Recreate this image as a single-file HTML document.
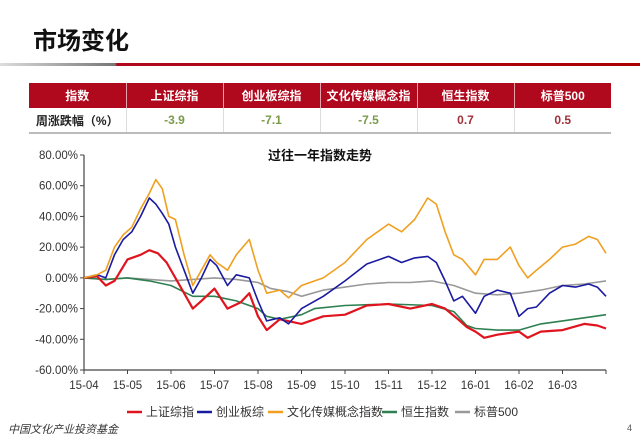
<!DOCTYPE html>
<html><head><meta charset="utf-8"><style>
body{margin:0;width:640px;height:444px;background:#fff;position:relative;overflow:hidden;font-family:"Liberation Sans","Noto Sans CJK SC",sans-serif}
.t{position:absolute}
table{position:absolute;left:29px;top:83px;width:582px;border-collapse:collapse;font-size:12px;table-layout:fixed}
th{background:#b0091e;color:#fff;height:25px;font-weight:bold;border-right:1px solid #e6a0aa;padding:0}
td{height:24px;text-align:center;font-weight:bold;border-right:1px solid #ddd;border-bottom:2px solid #bbb;padding:0}
th:last-child,td:last-child{border-right:none}
</style></head><body>
<div class="t" style="left:33px;top:21px;font-size:24px;font-weight:bold;color:#111">市场变化</div>
<div class="t" style="left:0;top:63px;width:640px;height:3px;background:linear-gradient(90deg,#ddd 0,#777 115px,#b0091e 117px,#a00 100%)"></div>
<table>
<tr><th>指数</th><th>上证综指</th><th>创业板综指</th><th>文化传媒概念指</th><th>恒生指数</th><th>标普500</th></tr>
<tr><td style="color:#222">周涨跌幅（%）</td><td style="color:#7a9a4a">-3.9</td><td style="color:#7a9a4a">-7.1</td><td style="color:#7a9a4a">-7.5</td><td style="color:#a0303a">0.7</td><td style="color:#a0303a">0.5</td></tr>
</table>
<svg id="c" class="t" style="left:0;top:0" width="640" height="444"></svg>
<div class="t" style="left:8px;top:421px;font-size:11px;color:#333;font-style:italic">中国文化产业投资基金</div>
<div class="t" style="left:627px;top:423px;font-size:9px;color:#555">4</div>
<script>
const months=["15-04","15-05","15-06","15-07","15-08","15-09","15-10","15-11","15-12","16-01","16-02","16-03"];
const yTicks=[80,60,40,20,0,-20,-40,-60];
const seriesNames=["上证综指","创业板综","文化传媒概念指数","恒生指数","标普500"];
const seriesColors=["#e0141e","#1a1aa0","#f0a020","#2e8050","#999999"];
const mediaX=[0,0.3,0.5,0.7,0.9,1.1,1.3,1.5,1.65,1.8,1.95,2.1,2.3,2.5,2.7,2.9,3.05,3.3,3.5,3.8,4.0,4.2,4.5,4.7,5.0,5.5,6.0,6.5,7.0,7.3,7.6,7.9,8.1,8.3,8.5,8.7,9.0,9.2,9.5,9.8,10.0,10.2,10.4,10.7,11.0,11.3,11.6,11.8,12.0];
const mediaY=[0,2,5,20,28,33,45,55,64,58,40,38,15,-5,5,15,10,5,15,25,5,-10,-8,-13,-5,0,10,25,35,30,38,52,48,30,15,12,2,12,12,20,8,0,5,12,20,22,27,25,16];
const cybX=[0,0.3,0.5,0.7,0.9,1.1,1.3,1.5,1.65,1.8,1.95,2.1,2.3,2.5,2.7,2.9,3.05,3.3,3.5,3.8,4.0,4.2,4.5,4.7,5.0,5.5,6.0,6.5,7.0,7.3,7.6,7.9,8.1,8.3,8.5,8.7,9.0,9.2,9.5,9.8,10.0,10.2,10.4,10.7,11.0,11.3,11.6,11.8,12.0];
const cybY=[0,2,0,15,25,30,40,52,48,42,35,20,5,-10,0,12,8,-5,2,0,-15,-28,-26,-30,-20,-12,-2,9,14,10,13,14,10,-2,-15,-12,-23,-12,-8,-10,-25,-20,-19,-10,-5,-6,-4,-6,-12];
const shX=[0,0.3,0.5,0.7,1.0,1.3,1.5,1.7,1.9,2.1,2.3,2.5,2.7,3.0,3.3,3.6,3.8,4.0,4.2,4.5,5.0,5.5,6.0,6.5,7.0,7.5,8.0,8.3,8.6,8.8,9.0,9.2,9.5,10.0,10.2,10.5,11.0,11.5,11.8,12.0];
const shY=[0,1,-5,-2,12,15,18,16,10,0,-10,-20,-15,-7,-20,-16,-10,-25,-34,-27,-30,-25,-24,-18,-17,-20,-17,-20,-27,-32,-35,-39,-37,-35,-39,-35,-34,-30,-31,-33];
const hsX=[0,0.5,1.0,1.5,2.0,2.5,3.0,3.5,4.0,4.2,4.5,5.0,5.3,6.0,7.0,8.0,8.5,8.8,9.0,9.5,10.0,10.5,11.0,11.5,12.0];
const hsY=[0,-1,0,-2,-5,-12,-12,-15,-20,-25,-27,-24,-20,-18,-17,-18,-22,-31,-33,-34,-34,-30,-28,-26,-24];
const spX=[0,0.5,1.0,1.5,2.0,2.5,3.0,3.5,4.0,4.3,4.7,5.0,5.5,6.0,6.5,7.0,7.5,8.0,8.5,9.0,9.5,10.0,10.5,11.0,11.5,12.0];
const spY=[0,-1,0,-1,-2,-1,0,-1,-3,-7,-9,-12,-8,-6,-4,-3,-3,-2,-5,-10,-11,-10,-8,-5,-4,-2];
const seriesX=[shX,cybX,mediaX,hsX,spX];
const seriesY=[shY,cybY,mediaY,hsY,spY];
const svg=document.getElementById('c');const NS="http://www.w3.org/2000/svg";
const X0=84,X1=606,Y0=155,Y1=370;
const xs=m=>X0+m*(X1-X0)/12;
const ys=v=>Y0+(80-v)*(Y1-Y0)/140;
function mk(tag,a,txt){const e=document.createElementNS(NS,tag);for(const k in a)e.setAttribute(k,a[k]);if(txt!==undefined)e.textContent=txt;svg.appendChild(e);return e;}
let e=mk('text',{x:320,y:160,'text-anchor':'middle','font-size':13,'font-weight':'bold',fill:'#111'},'过往一年指数走势');


e=mk('line',{x1:X0,y1:Y0,x2:X0,y2:Y1,stroke:'#444','stroke-width':1.2});


e=mk('line',{x1:X0,y1:Y1,x2:X1,y2:Y1,stroke:'#444','stroke-width':1.2});


yTicks.forEach(v=>{mk('line',{x1:X0-4,y1:ys(v),x2:X0,y2:ys(v),stroke:'#444'});
e=mk('text',{x:78,y:ys(v)+4,'text-anchor':'end','font-size':11.5,fill:'#333'},v.toFixed(2)+'%');

});
months.forEach((m,i)=>{mk('line',{x1:xs(i),y1:Y1,x2:xs(i),y2:Y1+4,stroke:'#444'});
e=mk('text',{x:xs(i),y:389,'text-anchor':'middle','font-size':11.5,fill:'#333'},m);

});
mk('line',{x1:X1,y1:Y1,x2:X1,y2:Y1+4,stroke:'#444'});
[4,3,0,1,2].forEach(k=>{const pts=seriesX[k].map((x,i)=>xs(x).toFixed(1)+','+ys(seriesY[k][i]).toFixed(1)).join(' ');
e=mk('polyline',{points:pts,fill:'none',stroke:seriesColors[k],'stroke-width':k==0?2.2:1.6,'stroke-linejoin':'round'});

});
const legX=[127,197,268,382,455];
seriesNames.forEach((n,k)=>{mk('line',{x1:legX[k],y1:412,x2:legX[k]+15,y2:412,stroke:seriesColors[k],'stroke-width':2.5});
e=mk('text',{x:legX[k]+19,y:416,'font-size':12,fill:'#333'},n);

});
</script>
</body></html>
